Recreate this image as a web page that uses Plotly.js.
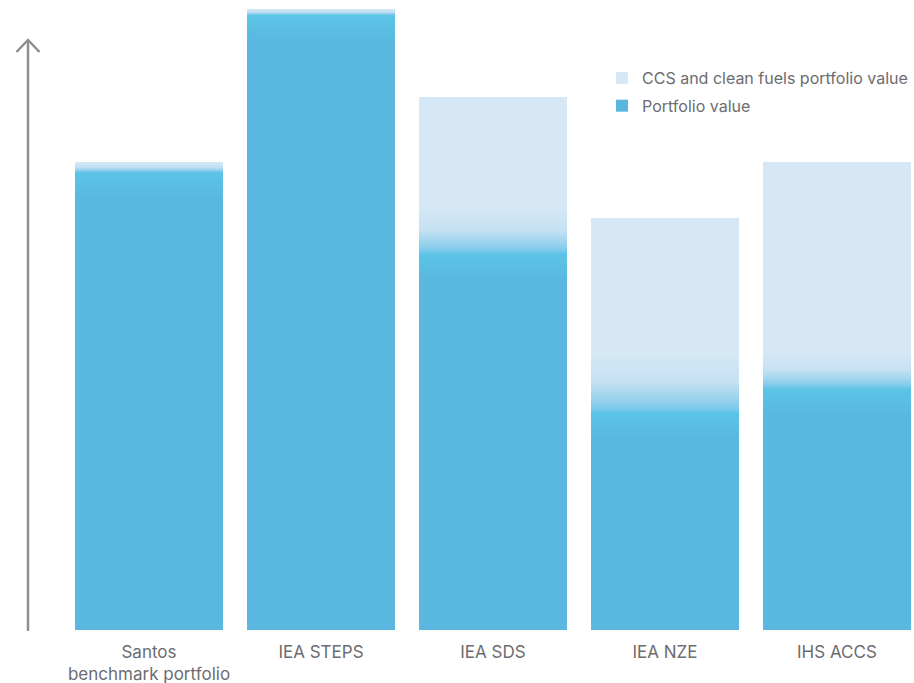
<!DOCTYPE html>
<html>
<head>
<meta charset="utf-8">
<script src="https://cdn.plot.ly/plotly-3.0.1.min.js"></script>
<style>html,body{margin:0;padding:0;background:#fff;}#chart{width:914px;height:683px;}</style>
</head>
<body>
<div id="chart"></div>
<script>
// Data (relative index, Santos benchmark portfolio value = 100)
const categories = ["Santos<br>benchmark portfolio", "IEA STEPS", "IEA SDS", "IEA NZE", "IHS ACCS"];
const portfolioValue = [100, 134.3, 82.3, 47.6, 52.8];
const ccsCleanFuelsValue = [2.2, 1.3, 34.1, 42.4, 49.3];
const seriesNames = ["Portfolio value", "CCS and clean fuels portfolio value"];

// Styling
const solidBlue = "#5ab8e0";
const lightBlue = "#d6e8f5";
const textGray = "#6c6c71";
const fontFamily = "Inter, 'Noto Sans', sans-serif";
const fadeLengthPx = [10, 6, 45, 60, 36];

const traces = [
  {type: "bar", name: seriesNames[0], x: categories, y: portfolioValue,
   marker: {color: solidBlue, line: {width: 0}}, hoverinfo: "skip", legendrank: 2, legendgroup: "pv"},
  {type: "bar", name: seriesNames[1], x: categories, y: ccsCleanFuelsValue,
   marker: {color: lightBlue, line: {width: 0}}, hoverinfo: "skip", legendrank: 1, legendgroup: "ccs"}
];

const L = 63, W = 851, H = 630;
const px = v => (v - L) / W;
const py = v => (H - v) / H;

const layout = {
  width: 914, height: 683, autosize: false,
  margin: {l: L, r: 0, t: 0, b: 53, pad: 0, autoexpand: false},
  paper_bgcolor: "#ffffff", plot_bgcolor: "#ffffff",
  barmode: "stack", bargap: 0.1395,
  font: {family: fontFamily, color: textGray, size: 17},
  xaxis: {range: [-0.5, 4.448], showgrid: false, zeroline: false, showline: false,
          ticks: "", tickfont: {size: 17, color: textGray}, fixedrange: true,
          ticklabelstandoff: 10},
  yaxis: {range: [0, 137.55], visible: false, fixedrange: true},
  showlegend: true,
  legend: {x: px(602), y: py(61), xanchor: "left", yanchor: "top",
           traceorder: "grouped", tracegroupgap: 4,
           font: {size: 16, color: textGray}, bgcolor: "rgba(0,0,0,0)", borderwidth: 0},
  shapes: [
    {type: "line", xref: "paper", yref: "paper", x0: px(28), x1: px(28), y0: py(631), y1: py(40),
     line: {color: "#8f8f93", width: 2.5}},
    {type: "path", xref: "paper", yref: "paper",
     path: `M${px(16.5)},${py(52)} L${px(28)},${py(40)} L${px(39.5)},${py(52)}`,
     line: {color: "#8f8f93", width: 2.5}}
  ]
};

Plotly.newPlot("chart", traces, layout, {staticPlot: true, displayModeBar: false}).then(gd => {
  const svg = gd.querySelector("svg.main-svg");
  const NS = "http://www.w3.org/2000/svg";
  let defs = svg.querySelector("defs");
  if (!defs) { defs = document.createElementNS(NS, "defs"); svg.insertBefore(defs, svg.firstChild); }
  const mk = (id, y1, y2, stops) => {
    const g = document.createElementNS(NS, "linearGradient");
    g.setAttribute("id", id);
    g.setAttribute("gradientUnits", "userSpaceOnUse");
    g.setAttribute("x1", 0); g.setAttribute("x2", 0);
    g.setAttribute("y1", y1); g.setAttribute("y2", y2);
    stops.forEach(s => {
      const st = document.createElementNS(NS, "stop");
      st.setAttribute("offset", s[0]); st.setAttribute("stop-color", s[1]);
      g.appendChild(st);
    });
    defs.appendChild(g);
  };
  const traceGroups = gd.querySelectorAll(".barlayer .trace");
  if (traceGroups.length >= 2) {
    traceGroups[1].querySelectorAll("path").forEach((p, i) => {
      const b = p.getBBox();
      const bottom = b.y + b.height;
      const top = Math.max(b.y, bottom - (fadeLengthPx[i] || 40));
      mk("ccsg" + i, top, bottom, [[0, lightBlue], [0.5, "#c4e1f3"], [0.85, "#8fcfec"], [1, "#6cc6e9"]]);
      p.style.fill = "url(#ccsg" + i + ")";
    });
    traceGroups[0].querySelectorAll("path").forEach((p, i) => {
      const b = p.getBBox();
      mk("pvg" + i, b.y, b.y + 26, [[0, "#5bc5e7"], [1, solidBlue]]);
      p.style.fill = "url(#pvg" + i + ")";
    });
  }
});
</script>
</body>
</html>
